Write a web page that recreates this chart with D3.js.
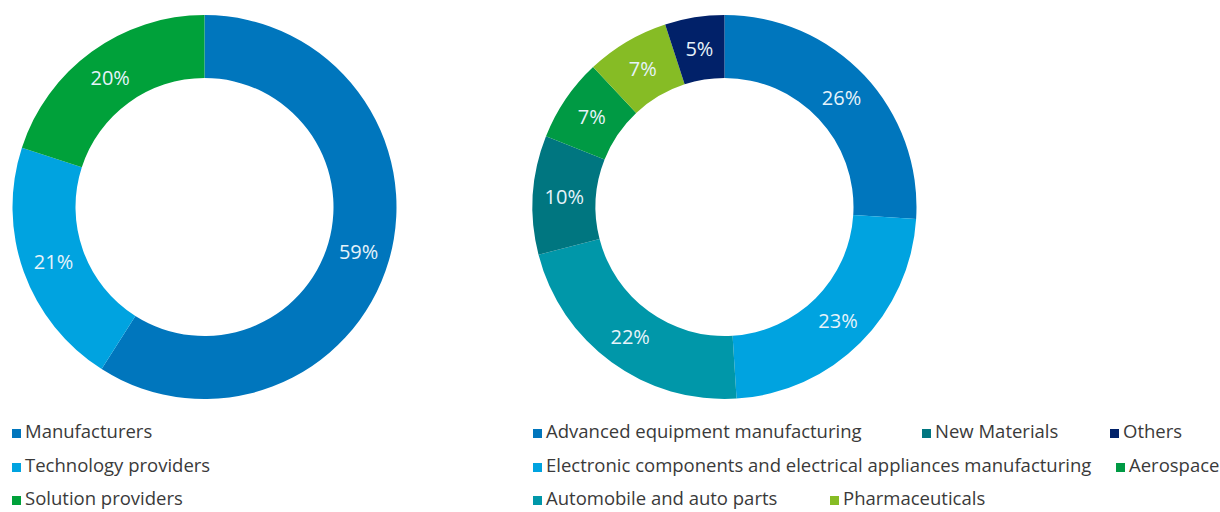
<!DOCTYPE html>
<html>
<head>
<meta charset="utf-8">
<script src="https://cdn.jsdelivr.net/npm/d3@7"></script>
<style>
  html, body { margin: 0; padding: 0; background: #fff; }
  svg { display: block; }
</style>
</head>
<body>
<svg id="chart" width="1220" height="512"></svg>
<script>
// Company type split
const typeCategories = ["Manufacturers", "Technology providers", "Solution providers"];
const typeValues = [59, 21, 20];
const typeColors = ["#0076BD", "#00A3E0", "#00A13A"];

// Industry split
const industryCategories = [
  "Advanced equipment manufacturing",
  "Electronic components and electrical appliances manufacturing",
  "Automobile and auto parts",
  "New Materials",
  "Aerospace",
  "Pharmaceuticals",
  "Others"
];
const industryValues = [26, 23, 22, 10, 7, 7, 5];
const industryColors = ["#0076BD", "#00A3E0", "#0097A9", "#007680", "#009A44", "#86BC25", "#012169"];

const svg = d3.select("#chart");
const FONT = "'Open Sans', 'Noto Sans', sans-serif";
const outerR = 192, innerR = 129;

function donut(cx, cy, cats, vals, colors) {
  const pie = d3.pie().sort(null).value(d => d.v);
  const data = pie(cats.map((c, i) => ({ c, v: vals[i], col: colors[i] })));
  const arc = d3.arc().innerRadius(innerR).outerRadius(outerR);
  const midR = (innerR + outerR) / 2;
  const labelArc = d3.arc().innerRadius(midR).outerRadius(midR);
  const g = svg.append("g").attr("transform", `translate(${cx},${cy})`);
  g.selectAll("path").data(data).join("path")
    .attr("d", arc)
    .attr("fill", d => d.data.col);
  g.selectAll("text").data(data).join("text")
    .attr("transform", d => `translate(${labelArc.centroid(d)})`)
    .attr("text-anchor", "middle")
    .attr("dominant-baseline", "central")
    .attr("font-family", FONT)
    .attr("font-size", 20)
    .attr("fill", "#e6f3fa")
    .text(d => d.data.v + "%");
}

donut(204.5, 207, typeCategories, typeValues, typeColors);
donut(724.5, 207, industryCategories, industryValues, industryColors);

// Legends: square marker + label
function legendItem(x, baseline, label, color) {
  const g = svg.append("g");
  g.append("rect")
    .attr("x", x).attr("y", baseline - 9)
    .attr("width", 9).attr("height", 9)
    .attr("fill", color);
  g.append("text")
    .attr("x", x + 13).attr("y", baseline)
    .attr("font-family", FONT)
    .attr("font-size", 18.5)
    .attr("fill", "#3a3a3a")
    .text(label);
}

const rowBase = [438, 472, 505];

typeCategories.forEach((c, i) => legendItem(12, rowBase[i], c, typeColors[i]));

// [category index, row, x]
const industryLegendLayout = [
  [0, 0, 533], [3, 0, 922], [6, 0, 1110],
  [1, 1, 533], [4, 1, 1116],
  [2, 2, 533], [5, 2, 830]
];
industryLegendLayout.forEach(([i, r, x]) =>
  legendItem(x, rowBase[r], industryCategories[i], industryColors[i]));
</script>
</body>
</html>
